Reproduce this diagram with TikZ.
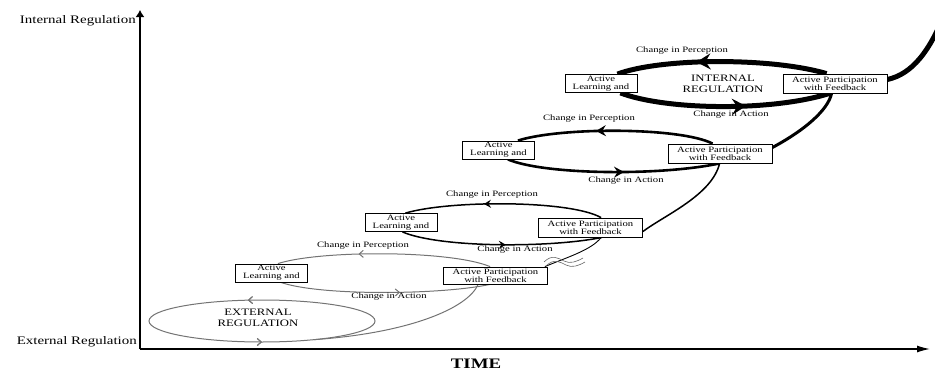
\documentclass[tikz,border=0pt]{standalone}
\usepackage{fontspec}
\setmainfont{Liberation Serif}[FakeStretch=1.3]
\usetikzlibrary{arrows.meta,decorations.markings,calc,shapes.geometric,backgrounds}
\tikzset{
  abox/.style={draw, line width=0.8pt, fill=white, inner sep=0pt, minimum width=72pt, minimum height=18pt, align=center, font=\fontsize{8.2}{8}\selectfont},
  pbox/.style={abox, minimum width=104pt, minimum height=19pt},
  lab/.style={inner sep=0pt, font=\fontsize{8.2}{9}\selectfont},
  biglab/.style={inner sep=0pt, align=center, font=\fontsize{9.8}{10.5}\selectfont},
  axlab/.style={inner sep=0pt, font=\fontsize{11.5}{12}\selectfont},
  marr/.style 2 args={postaction={decorate}, decoration={markings, mark=at position #1 with {\arrow{#2}}}},
  lvA/.style={line width=1pt, draw=black!55},
  lvB/.style={line width=1.5pt},
  lvC/.style={line width=2.6pt},
  lvD/.style={line width=5pt},
  tipA/.tip={Straight Barb[length=4pt,width=7pt,line width=1pt]},
  tipB/.tip={Stealth[length=7pt,width=8pt,inset=2.5pt]},
  tipC/.tip={Stealth[length=10pt,width=11pt,inset=3.5pt]},
  tipD/.tip={Stealth[length=14pt,width=16pt,inset=5pt]},
}
\begin{document}
\begin{tikzpicture}[x=1pt,y=-1pt]
\useasboundingbox (0,0) rectangle (935,370);

% axes
\coordinate (o) at (140,349);
\coordinate (ytip) at (140,10);
\coordinate (xtip) at (930,349);
\draw[line width=1.3pt, -{Latex[length=7pt,width=9pt]}] (o) -- (ytip);
\draw[line width=1.3pt, -{Latex[length=13pt,width=7pt]}] (o) -- (xtip);
\node[axlab, anchor=east] (ilab) at (136,21) {Internal Regulation};
\node[axlab, anchor=east] (elab) at (137,342) {External Regulation};
\node[inner sep=0pt, anchor=base, font=\fontsize{14.5}{16}\selectfont\bfseries] (time) at (476,368.5) {TIME};

% boxes
\node[abox] (a4) at (601,83.5) {Active\\Learning and};
\node[pbox] (p4) at (835,83.5) {Active Participation\\with Feedback};
\node[abox] (a3) at (498.5,150) {Active\\Learning and};
\node[pbox] (p3) at (720,153.5) {Active Participation\\with Feedback};
\node[abox] (a2) at (401,222.5) {Active\\Learning and};
\node[pbox] (p2) at (590.5,227.5) {Active Participation\\with Feedback};
\node[abox] (a1) at (271.5,273) {Active\\Learning and};
\node[pbox, minimum height=17pt] (p1) at (495.5,275.5) {Active Participation\\with Feedback};
\node[ellipse, inner sep=0pt, outer sep=0pt, minimum width=226pt, minimum height=42pt] (e) at (262,321) {};
\node[biglab] (etxt) at (258,318) {EXTERNAL\\REGULATION};
\node[biglab] (itxt) at (723,84) {INTERNAL\\REGULATION};

% labels
\node[lab] (cp4) at (682,51) {Change in Perception};
\node[lab] (ca4) at (731,115) {Change in Action};
\node[lab] (cp3) at (589,119) {Change in Perception};
\node[lab] (ca3) at (626,181) {Change in Action};
\node[lab] (cp2) at (492,195) {Change in Perception};
\node[lab] (ca2) at (515,250) {Change in Action};
\node[lab] (cp1) at (363,246) {Change in Perception};
\node[lab] (ca1) at (389,297) {Change in Action};

\coordinate (out) at (947,8);

\begin{scope}[on background layer]
% external ellipse
\draw[lvA, marr={0.28}{tipA}, marr={0.75}{tipA}] (e.center) ellipse [x radius=113pt, y radius=21pt];
\draw[lvA] (e.-20) .. controls (410,333) and (468,308) .. ($(p1.south west)+(35,0)$);
% level 1
\draw[lvA, marr={0.62}{tipA}] ($(p1.north west)+(47,0)$) .. controls (450,250) and (320,250) .. ($(a1.north east)+(-30,0)$);
\draw[lvA, marr={0.57}{tipA}] ($(a1.south east)+(-27,0)$) .. controls (320,296) and (440,295) .. ($(p1.south west)+(47,0)$);
\draw[line width=0.9pt] ($(p1.north east)+(-3,0)$) .. controls (565,258) and (592,250) .. ($(p2.south west)+(63,0)$);
% squiggle
\draw[line width=0.6pt, black!60] (544,262) .. controls (552,254) and (558,258) .. (564,261) .. controls (570,264) and (576,262) .. (583,258);
\draw[line width=0.6pt, black!60] (546,266) .. controls (554,258) and (560,262) .. (566,265) .. controls (572,268) and (578,266) .. (585,262);
% level 2
\draw[lvB, marr={0.6}{tipB}] ($(p2.north west)+(63,0)$) .. controls (570,200) and (450,200) .. ($(a2.north east)+(-32,0)$);
\draw[lvB, marr={0.52}{tipB}] ($(a2.south east)+(-35,0)$) .. controls (440,248) and (550,248) .. ($(p2.south west)+(64,0)$);
\draw[lvB] ($(p2.east)+(0,4)$) .. controls (665,215) and (712,195) .. ($(p3.south west)+(52,0)$);
% level 3
\draw[lvC, marr={0.6}{tipC}] ($(p3.north west)+(45,0)$) .. controls (680,127) and (560,127) .. ($(a3.north east)+(-17,0)$);
\draw[lvC, marr={0.55}{tipC}] ($(a3.south east)+(-27,0)$) .. controls (545,175) and (660,176) .. ($(p3.south west)+(52,0)$);
\draw[line width=3pt] ($(p3.east)+(0,-6)$) .. controls (805,130) and (828,110) .. ($(p4.south west)+(49,0)$);
% level 4
\draw[lvD, marr={0.62}{tipD}] ($(p4.north west)+(44,0)$) .. controls (770,57) and (660,58) .. ($(a4.north east)+(-20,0)$);
\draw[lvD, marr={0.6}{tipD}] ($(a4.south east)+(-17,0)$) .. controls (665,110) and (770,112) .. ($(p4.south west)+(47,0)$);
\draw[lvD] ($(p4.east)+(0,-4)$) .. controls (912,74) and (930,52) .. (out);
\end{scope}
\end{tikzpicture}
\end{document}
